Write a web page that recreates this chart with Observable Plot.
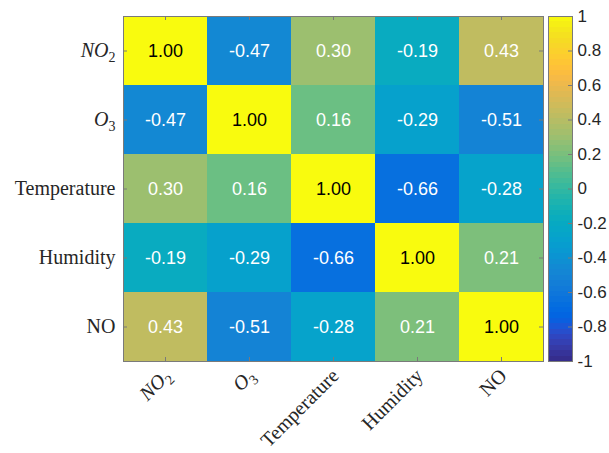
<!DOCTYPE html>
<html>
<head>
<meta charset="utf-8">
<script src="https://cdn.jsdelivr.net/npm/d3@7"></script>
<script src="https://cdn.jsdelivr.net/npm/@observablehq/plot@0.6"></script>
<style>
  html, body { margin: 0; padding: 0; background: #fff; }
  #wrap { position: relative; width: 609px; height: 453px; overflow: hidden; }
  #wrap > svg { position: absolute; top: 0; }
</style>
</head>
<body>
<div id="wrap"></div>
<script>
// ---- data ----
const variables = ["NO2", "O3", "Temperature", "Humidity", "NO"];
const rowNO2 = [1.00, -0.47, 0.30, -0.19, 0.43];
const rowO3 = [-0.47, 1.00, 0.16, -0.29, -0.51];
const rowTemperature = [0.30, 0.16, 1.00, -0.66, -0.28];
const rowHumidity = [-0.19, -0.29, -0.66, 1.00, 0.21];
const rowNO = [0.43, -0.51, -0.28, 0.21, 1.00];
const colorbarTicks = [-1, -0.8, -0.6, -0.4, -0.2, 0, 0.2, 0.4, 0.6, 0.8, 1];

// ---- parula colormap (style) ----
const parula = [
[0.2081,0.1663,0.5292],[0.2116,0.1898,0.5777],[0.2123,0.2138,0.6270],[0.2081,0.2386,0.6771],
[0.1959,0.2645,0.7279],[0.1707,0.2919,0.7792],[0.1253,0.3242,0.8303],[0.0591,0.3598,0.8683],
[0.0117,0.3875,0.8820],[0.0060,0.4086,0.8828],[0.0165,0.4266,0.8786],[0.0329,0.4430,0.8720],
[0.0498,0.4586,0.8641],[0.0629,0.4737,0.8554],[0.0723,0.4887,0.8467],[0.0779,0.5040,0.8384],
[0.0793,0.5200,0.8312],[0.0749,0.5375,0.8263],[0.0641,0.5570,0.8240],[0.0488,0.5772,0.8228],
[0.0343,0.5966,0.8199],[0.0265,0.6137,0.8135],[0.0239,0.6287,0.8038],[0.0231,0.6418,0.7913],
[0.0228,0.6535,0.7768],[0.0267,0.6642,0.7607],[0.0384,0.6743,0.7436],[0.0590,0.6838,0.7254],
[0.0843,0.6928,0.7062],[0.1133,0.7015,0.6859],[0.1453,0.7098,0.6646],[0.1801,0.7177,0.6424],
[0.2178,0.7250,0.6193],[0.2586,0.7317,0.5954],[0.3022,0.7376,0.5712],[0.3482,0.7424,0.5473],
[0.3953,0.7459,0.5244],[0.4420,0.7481,0.5033],[0.4871,0.7491,0.4840],[0.5300,0.7491,0.4661],
[0.5709,0.7485,0.4494],[0.6099,0.7473,0.4337],[0.6473,0.7456,0.4188],[0.6834,0.7435,0.4044],
[0.7184,0.7411,0.3905],[0.7525,0.7384,0.3768],[0.7858,0.7356,0.3633],[0.8185,0.7327,0.3498],
[0.8507,0.7299,0.3360],[0.8824,0.7274,0.3217],[0.9139,0.7258,0.3063],[0.9450,0.7261,0.2886],
[0.9739,0.7314,0.2666],[0.9938,0.7455,0.2403],[0.9990,0.7653,0.2164],[0.9955,0.7861,0.1967],
[0.9880,0.8066,0.1794],[0.9789,0.8271,0.1633],[0.9697,0.8481,0.1475],[0.9626,0.8705,0.1309],
[0.9589,0.8949,0.1132],[0.9598,0.9218,0.0948],[0.9661,0.9514,0.0755],[0.9763,0.9831,0.0538]
].map(([r,g,b]) => d3.rgb(r*255, g*255, b*255).formatHex());
const N = parula.length;
const colorScale = {
  type: "linear",
  domain: parula.map((_, i) => -1 + 2 * i / (N - 1)),
  range: parula,
  interpolate: "rgb"
};

const matrix = [rowNO2, rowO3, rowTemperature, rowHumidity, rowNO];
const cells = [];
matrix.forEach((row, i) => row.forEach((v, j) => cells.push({row: variables[i], col: variables[j], value: v})));

const isFormula = d => /^(NO|O)\d$/.test(d);

const W = 609, H = 453;
const mL = 123, mT = 16, mR = 66, mB = 92;
const pw = W - mL - mR, ph = H - mT - mB;
const frameGray = "#7a7a7a";
const textDark = "#262626";
const serif = "'Liberation Serif', 'Times New Roman', serif";
const sans = "'Liberation Sans', Arial, Helvetica, sans-serif";
const tk = 4;

const xLabelOpts = {x: d => d, text: d => d, frameAnchor: "bottom", textAnchor: "end", lineAnchor: "middle", rotate: -45, dy: 11, dx: 2, fontSize: 20, fontFamily: serif, fill: textDark};
const yLabelOpts = {y: d => d, text: d => d, frameAnchor: "left", textAnchor: "end", dx: -8, fontSize: 20, fontFamily: serif, fill: textDark};

const heat = Plot.plot({
  width: W, height: H,
  marginLeft: mL, marginTop: mT, marginRight: mR, marginBottom: mB,
  style: {background: "transparent", overflow: "visible"},
  x: {type: "band", domain: variables, padding: 0, axis: null},
  y: {type: "band", domain: variables, padding: 0, axis: null},
  color: colorScale,
  marks: [
    Plot.cell(cells, {x: "col", y: "row", fill: "value", inset: 0}),
    Plot.text(cells.filter(d => d.value > 0.6), {x: "col", y: "row", text: d => d.value.toFixed(2), fill: "black", fontSize: 18, fontFamily: sans}),
    Plot.text(cells.filter(d => d.value <= 0.6), {x: "col", y: "row", text: d => d.value.toFixed(2), fill: "white", fontSize: 18, fontFamily: sans}),
    Plot.frame({stroke: frameGray, strokeWidth: 1}),
    // inward ticks on all four sides
    Plot.ruleY(variables, {y: d => d, insetRight: pw - tk, stroke: frameGray}),
    Plot.ruleY(variables, {y: d => d, insetLeft: pw - tk, stroke: frameGray}),
    Plot.ruleX(variables, {x: d => d, insetTop: ph - tk, stroke: frameGray}),
    Plot.ruleX(variables, {x: d => d, insetBottom: ph - tk, stroke: frameGray}),
    // tick labels (formulas in italic math style)
    Plot.text(variables.filter(d => !isFormula(d)), yLabelOpts),
    Plot.text(variables.filter(isFormula), {...yLabelOpts, fontStyle: "italic"}),
    Plot.text(variables.filter(d => !isFormula(d)), xLabelOpts),
    Plot.text(variables.filter(isFormula), {...xLabelOpts, fontStyle: "italic"})
  ]
});

// subscript digit for chemical formulas
d3.select(heat).selectAll("text").each(function() {
  const m = this.textContent.match(/^(NO|O)(\d)$/);
  if (!m) return;
  const sel = d3.select(this);
  sel.text("");
  sel.append("tspan").text(m[1]);
  sel.append("tspan").attr("font-size", 14).attr("dy", 5).attr("font-style", "normal").text(m[2]);
});

const cbW = 24;
const bands = d3.range(N).map(i => ({y1: -1 + 2 * i / N, y2: -1 + 2 * (i + 1) / N, v: -1 + 2 * (i + 0.5) / N}));
const bar = Plot.plot({
  width: W - 548, height: H,
  marginLeft: 0, marginRight: W - 548 - cbW, marginTop: mT, marginBottom: mB,
  style: {background: "transparent", overflow: "visible"},
  x: {axis: null, domain: [0, 1]},
  y: {domain: [-1, 1], axis: null},
  color: colorScale,
  marks: [
    Plot.rect(bands, {x1: 0, x2: 1, y1: "y1", y2: "y2", fill: "v", inset: 0, shapeRendering: "crispEdges"}),
    Plot.frame({stroke: frameGray, strokeWidth: 1}),
    Plot.ruleY(colorbarTicks, {y: d => d, insetLeft: cbW - tk, stroke: frameGray}),
    Plot.text(colorbarTicks, {y: d => d, text: d => String(d), frameAnchor: "right", textAnchor: "start", dx: 5, fontSize: 17, fontFamily: sans, fill: textDark})
  ]
});
bar.style.left = "548px";

const wrap = document.getElementById("wrap");
heat.style.left = "0px";
wrap.appendChild(heat);
wrap.appendChild(bar);
</script>
</body>
</html>
